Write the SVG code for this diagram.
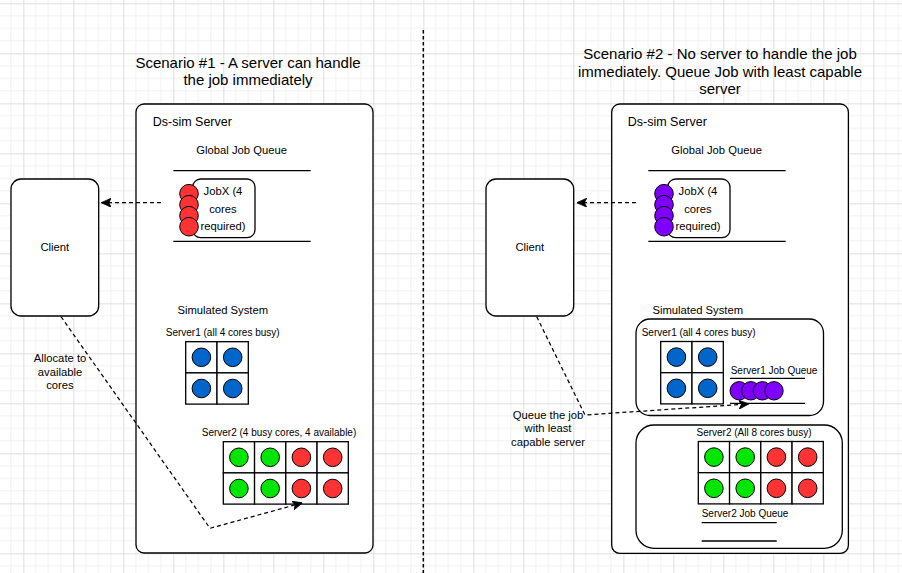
<svg xmlns="http://www.w3.org/2000/svg" width="902" height="573" viewBox="0 0 902 573">
  <defs>
    <pattern id="grid" patternUnits="userSpaceOnUse" x="23.33" y="3.33" width="50" height="50">
      <path d="M12.5,0V50M25,0V50M37.5,0V50M0,12.5H50M0,25H50M0,37.5H50" stroke="#f1f1f1" stroke-width="1" fill="none"/>
      <path d="M0.5,0V50M0,0.5H50" stroke="#dfdfdf" stroke-width="1" fill="none"/>
    </pattern>
    <marker id="arrow" markerUnits="userSpaceOnUse" viewBox="0 0 10 9" refX="9.5" refY="4.5" markerWidth="10" markerHeight="9" orient="auto">
      <path d="M0,0 L10,4.5 L0,9 L2.5,4.5 Z" fill="#000" stroke="#000" stroke-width="0.8" stroke-linejoin="miter"/>
    </marker>
    <style>
      text { font-family: "Liberation Sans", Arial, sans-serif; fill: #000; }
      .title { font-size: 15px; text-anchor: middle; }
      .lbl { font-size: 11.25px; }
      .sm { font-size: 10px; }
      .big { font-size: 12.5px; }
      .mid { text-anchor: middle; }
      .box { fill: #fff; stroke: #000; stroke-width: 1.3; }
      .cell { fill: #fff; stroke: #000; stroke-width: 1.3; }
      .qline { stroke: #000; stroke-width: 1.3; fill: none; }
      .red { fill: #ff3333; stroke: #000; stroke-width: 1; }
      .green { fill: #00e600; stroke: #000; stroke-width: 1; }
      .blue { fill: #0066cc; stroke: #000; stroke-width: 1; }
      .purple { fill: #7f00ff; stroke: #000; stroke-width: 1; }
      .conn { fill: none; stroke: #000; stroke-width: 1.25; stroke-dasharray: 4 3; }
    </style>
  </defs>

  <rect x="0" y="0" width="902" height="573" fill="#fff"/>
  <rect x="0" y="0" width="902" height="573" fill="url(#grid)"/>

  <!-- divider -->
  <g id="divider">
    <line x1="423.3" y1="30" x2="423.3" y2="573" stroke="#000" stroke-width="1.5" stroke-dasharray="3.5 2.5"/>
  </g>

  <!-- ===== Scenario 1 ===== -->
  <g id="title1">
    <text class="title" x="248" y="67.5">Scenario #1 - A server can handle</text>
    <text class="title" x="248" y="85">the job immediately</text>
  </g>

  <g id="dssim1">
    <rect class="box" x="136" y="104" width="237" height="449" rx="8"/>
    <text class="big" x="152.7" y="126">Ds-sim Server</text>
  </g>

  <g id="globalqueue1">
    <text class="lbl mid" x="241.7" y="154">Global Job Queue</text>
    <line class="qline" x1="173.3" y1="170.7" x2="310.7" y2="170.7"/>
    <line class="qline" x1="173.3" y1="241.3" x2="310.7" y2="241.3"/>
  </g>

  <g id="jobx1">
    <rect class="box" x="192.7" y="179" width="62.3" height="58.7" rx="8"/>
    <circle class="red" cx="189" cy="193.7" r="9.3"/>
    <circle class="red" cx="189" cy="204.7" r="9.3"/>
    <circle class="red" cx="189" cy="215.7" r="9.3"/>
    <circle class="red" cx="189" cy="226.7" r="9.3"/>
    <text class="lbl mid" x="223" y="195">JobX (4</text>
    <text class="lbl mid" x="223" y="212.5">cores</text>
    <text class="lbl mid" x="223" y="230">required)</text>
  </g>

  <g id="client1">
    <rect class="box" x="11" y="179" width="87.7" height="137" rx="10"/>
    <text class="lbl mid" x="54.8" y="251">Client</text>
  </g>

  <g id="simsys1">
    <text class="lbl mid" x="222.8" y="314">Simulated System</text>
  </g>

  <g id="server1a">
    <text class="sm mid" x="222.7" y="336">Server1 (all 4 cores busy)</text>
    <rect class="cell" x="185.7" y="341.7" width="31.3" height="31.2"/>
    <rect class="cell" x="217" y="341.7" width="31.3" height="31.2"/>
    <rect class="cell" x="185.7" y="372.9" width="31.3" height="31.2"/>
    <rect class="cell" x="217" y="372.9" width="31.3" height="31.2"/>
    <circle class="blue" cx="201.4" cy="357.3" r="9.3"/>
    <circle class="blue" cx="232.7" cy="357.3" r="9.3"/>
    <circle class="blue" cx="201.4" cy="388.5" r="9.3"/>
    <circle class="blue" cx="232.7" cy="388.5" r="9.3"/>
  </g>

  <g id="server2a">
    <text class="sm mid" x="279" y="436">Server2 (4 busy cores, 4 available)</text>
    <rect class="cell" x="223.3" y="441.7" width="31.25" height="31.2"/>
    <rect class="cell" x="254.55" y="441.7" width="31.25" height="31.2"/>
    <rect class="cell" x="285.8" y="441.7" width="31.25" height="31.2"/>
    <rect class="cell" x="317.05" y="441.7" width="31.25" height="31.2"/>
    <rect class="cell" x="223.3" y="472.9" width="31.25" height="31.2"/>
    <rect class="cell" x="254.55" y="472.9" width="31.25" height="31.2"/>
    <rect class="cell" x="285.8" y="472.9" width="31.25" height="31.2"/>
    <rect class="cell" x="317.05" y="472.9" width="31.25" height="31.2"/>
    <circle class="green" cx="238.9" cy="457.3" r="9.3"/>
    <circle class="green" cx="270.2" cy="457.3" r="9.3"/>
    <circle class="red" cx="301.4" cy="457.3" r="9.3"/>
    <circle class="red" cx="332.7" cy="457.3" r="9.3"/>
    <circle class="green" cx="238.9" cy="488.5" r="9.3"/>
    <circle class="green" cx="270.2" cy="488.5" r="9.3"/>
    <circle class="red" cx="301.4" cy="488.5" r="9.3"/>
    <circle class="red" cx="332.7" cy="488.5" r="9.3"/>
  </g>

  <!-- ===== Scenario 2 ===== -->
  <g id="title2">
    <text class="title" x="720" y="59.3">Scenario #2 - No server to handle the job</text>
    <text class="title" x="720" y="76.8">immediately. Queue Job with least capable</text>
    <text class="title" x="720" y="94.3">server</text>
  </g>

  <g id="dssim2">
    <rect class="box" x="611.7" y="104" width="236.7" height="449.3" rx="8"/>
    <text class="big" x="627.7" y="126">Ds-sim Server</text>
  </g>

  <g id="globalqueue2">
    <text class="lbl mid" x="716.7" y="154">Global Job Queue</text>
    <line class="qline" x1="648.3" y1="170.7" x2="785.7" y2="170.7"/>
    <line class="qline" x1="648.3" y1="241.3" x2="785.7" y2="241.3"/>
  </g>

  <g id="jobx2">
    <rect class="box" x="667.7" y="179" width="62.3" height="58.7" rx="8"/>
    <circle class="purple" cx="664" cy="193.7" r="9.3"/>
    <circle class="purple" cx="664" cy="204.7" r="9.3"/>
    <circle class="purple" cx="664" cy="215.7" r="9.3"/>
    <circle class="purple" cx="664" cy="226.7" r="9.3"/>
    <text class="lbl mid" x="698" y="195">JobX (4</text>
    <text class="lbl mid" x="698" y="212.5">cores</text>
    <text class="lbl mid" x="698" y="230">required)</text>
  </g>

  <g id="client2">
    <rect class="box" x="486" y="179" width="87.7" height="137" rx="10"/>
    <text class="lbl mid" x="529.8" y="251">Client</text>
  </g>

  <g id="simsys2">
    <text class="lbl mid" x="697.8" y="314">Simulated System</text>
  </g>

  <g id="server1b">
    <rect class="box" x="636" y="319" width="187.5" height="96.5" rx="14"/>
    <text class="sm" x="641.7" y="336">Server1 (all 4 cores busy)</text>
    <rect class="cell" x="660.7" y="341.5" width="31.3" height="31.2"/>
    <rect class="cell" x="692" y="341.5" width="31.3" height="31.2"/>
    <rect class="cell" x="660.7" y="372.7" width="31.3" height="31.2"/>
    <rect class="cell" x="692" y="372.7" width="31.3" height="31.2"/>
    <circle class="blue" cx="676.4" cy="357.1" r="9.3"/>
    <circle class="blue" cx="707.7" cy="357.1" r="9.3"/>
    <circle class="blue" cx="676.4" cy="388.3" r="9.3"/>
    <circle class="blue" cx="707.7" cy="388.3" r="9.3"/>
    <text class="sm" x="730.7" y="373.7">Server1 Job Queue</text>
    <line class="qline" x1="730" y1="378.3" x2="805" y2="378.3"/>
    <line class="qline" x1="730" y1="403.3" x2="805" y2="403.3"/>
    <circle class="purple" cx="739.2" cy="390.8" r="9.2"/>
    <circle class="purple" cx="750.8" cy="390.8" r="9.2"/>
    <circle class="purple" cx="762.4" cy="390.8" r="9.2"/>
    <circle class="purple" cx="774" cy="390.8" r="9.2"/>
  </g>

  <g id="server2b">
    <rect class="box" x="636" y="425" width="206.3" height="123.3" rx="18"/>
    <text class="sm mid" x="754" y="436">Server2 (All 8 cores busy)</text>
    <rect class="cell" x="698.3" y="441.5" width="31.25" height="31.2"/>
    <rect class="cell" x="729.55" y="441.5" width="31.25" height="31.2"/>
    <rect class="cell" x="760.8" y="441.5" width="31.25" height="31.2"/>
    <rect class="cell" x="792.05" y="441.5" width="31.25" height="31.2"/>
    <rect class="cell" x="698.3" y="472.7" width="31.25" height="31.2"/>
    <rect class="cell" x="729.55" y="472.7" width="31.25" height="31.2"/>
    <rect class="cell" x="760.8" y="472.7" width="31.25" height="31.2"/>
    <rect class="cell" x="792.05" y="472.7" width="31.25" height="31.2"/>
    <circle class="green" cx="713.9" cy="457.1" r="9.3"/>
    <circle class="green" cx="745.2" cy="457.1" r="9.3"/>
    <circle class="red" cx="776.4" cy="457.1" r="9.3"/>
    <circle class="red" cx="807.7" cy="457.1" r="9.3"/>
    <circle class="green" cx="713.9" cy="488.3" r="9.3"/>
    <circle class="green" cx="745.2" cy="488.3" r="9.3"/>
    <circle class="red" cx="776.4" cy="488.3" r="9.3"/>
    <circle class="red" cx="807.7" cy="488.3" r="9.3"/>
    <text class="sm" x="701.7" y="516.5">Server2 Job Queue</text>
    <line class="qline" x1="701.7" y1="522.7" x2="776.7" y2="522.7"/>
    <line class="qline" x1="701.7" y1="541" x2="776.7" y2="541"/>
  </g>

  <!-- ===== Connectors ===== -->
  <g id="connectors">
    <path class="conn" d="M161,202.7 L101.7,202.7" marker-end="url(#arrow)"/>
    <path class="conn" d="M61,316.7 L210,528.3 L302,503" marker-end="url(#arrow)"/>
    <text class="lbl mid" x="60" y="362.3">Allocate to</text>
    <text class="lbl mid" x="60" y="375.7">available</text>
    <text class="lbl mid" x="60" y="389">cores</text>

    <path class="conn" d="M636,202.7 L577.3,202.7" marker-end="url(#arrow)"/>
    <path class="conn" d="M536.7,316.7 L585,415 L748.3,404" marker-end="url(#arrow)"/>
    <text class="lbl mid" x="548" y="419">Queue the job</text>
    <text class="lbl mid" x="548" y="432.3">with least</text>
    <text class="lbl mid" x="548" y="445.5">capable server</text>
  </g>
</svg>
